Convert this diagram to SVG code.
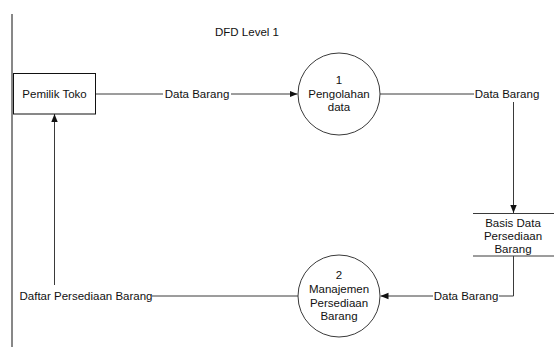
<svg xmlns="http://www.w3.org/2000/svg" width="557" height="347" viewBox="0 0 557 347">
<defs>
<style>
text{font-family:"Liberation Sans",Arial,sans-serif;font-size:11.5px;fill:#111;text-anchor:middle;dominant-baseline:central}
.ln{stroke:#3a3a3a;stroke-width:1;fill:none}
.shape{stroke:#3a3a3a;stroke-width:1;fill:#fff}
</style>
<marker id="ah" viewBox="0 0 8 8" refX="8" refY="4" markerWidth="8" markerHeight="8" markerUnits="userSpaceOnUse" orient="auto">
<path d="M0,0.8 L8,4 L0,7.2 Z" fill="#111"/>
</marker>
</defs>
<rect width="557" height="347" fill="#fff"/>
<line x1="12" y1="14" x2="12" y2="347" stroke="#111" stroke-width="1"/>
<text x="247" y="32">DFD Level 1</text>
<g id="connectors">
<line class="ln" x1="96" y1="94" x2="163" y2="94"/>
<line class="ln" x1="231" y1="94" x2="297.5" y2="94" marker-end="url(#ah)"/>
<text x="197" y="94">Data Barang</text>
<line class="ln" x1="380" y1="94" x2="474" y2="94"/>
<text x="507" y="94">Data Barang</text>
<line class="ln" x1="513.5" y1="102" x2="513.5" y2="213" marker-end="url(#ah)"/>
<polyline class="ln" points="513.5,256 513.5,296 499,296"/>
<text x="466" y="296">Data Barang</text>
<line class="ln" x1="433" y1="296" x2="380.5" y2="296" marker-end="url(#ah)"/>
<line class="ln" x1="298" y1="296" x2="152" y2="296"/>
<text x="86" y="296">Daftar Persediaan Barang</text>
<line class="ln" x1="54.5" y1="285" x2="54.5" y2="114" marker-end="url(#ah)"/>
</g>
<g id="pemilik-toko">
<rect x="13.5" y="73.5" width="82" height="40.5" fill="#fff" stroke="#111" stroke-width="1"/>
<text x="54.5" y="94">Pemilik Toko</text>
</g>
<g id="proses-1">
<circle class="shape" cx="339" cy="94" r="41"/>
<text x="339" y="80">1</text>
<text x="339" y="93.5">Pengolahan</text>
<text x="339" y="107">data</text>
</g>
<g id="basis-data">
<line class="ln" x1="473" y1="213.5" x2="554" y2="213.5"/>
<line class="ln" x1="473" y1="256" x2="554" y2="256"/>
<text x="513" y="222.5">Basis Data</text>
<text x="513" y="236">Persediaan</text>
<text x="513" y="249">Barang</text>
</g>
<g id="proses-2">
<circle class="shape" cx="339" cy="296" r="41"/>
<text x="339" y="275">2</text>
<text x="339" y="289">Manajemen</text>
<text x="339" y="302.5">Persediaan</text>
<text x="339" y="316">Barang</text>
</g>
</svg>
